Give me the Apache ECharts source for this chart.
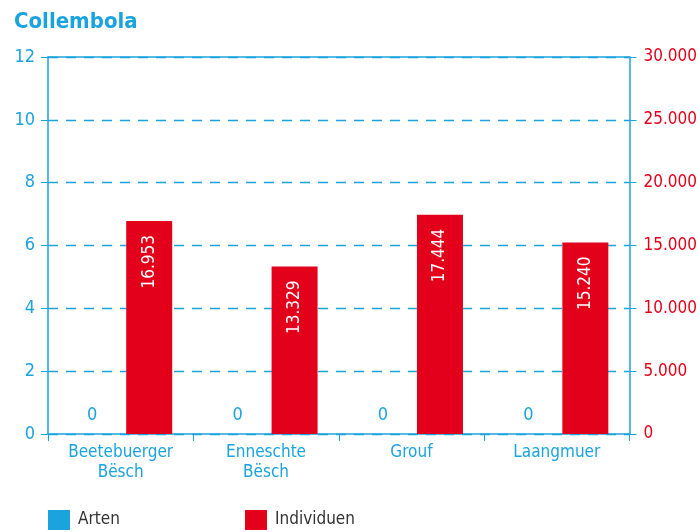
<!DOCTYPE html>
<html><head><meta charset="utf-8">
<script src="https://cdn.jsdelivr.net/npm/echarts@6/dist/echarts.min.js"></script>
<style>html,body{margin:0;padding:0;background:#fff}#c{width:700px;height:532px}</style>
</head><body><div id="c"></div>
<script>
const categories = ['Beetebuerger\nBësch', 'Enneschte\nBësch', 'Grouf', 'Laangmuer'];
const arten = [0, 0, 0, 0];
const individuen = [16953, 13329, 17444, 15240];
const leftTicks = [0, 2, 4, 6, 8, 10, 12];
const rightTicks = [0, 5000, 10000, 15000, 20000, 25000, 30000];

const BLUE = '#1ba3dd', RED = '#e2001a', FONT = "'DejaVu Sans Condensed', 'Liberation Sans Narrow', sans-serif";
const fmt = v => v === 0 ? '0' : String(v).replace(/\B(?=(\d{3})+(?!\d))/g, '.');
const chart = echarts.init(document.getElementById('c'));
chart.setOption({
  animation: false,
  textStyle: {fontFamily: FONT},
  title: {text: 'Collembola', left: 14, top: 11, padding: 0, textStyle: {color: BLUE, fontSize: 22, fontWeight: 'bold', fontFamily: FONT}},
  grid: {left: 48, right: 69, top: 57, bottom: 98},
  legend: [
    {data: ['Arten'], icon: 'rect', left: 48, top: 510, padding: 0, itemWidth: 22, itemHeight: 20, textStyle: {color: '#333', fontSize: 17, fontFamily: FONT, padding: [0, 0, 0, 3]}},
    {data: ['Individuen'], icon: 'rect', left: 245, top: 510, padding: 0, itemWidth: 22, itemHeight: 20, textStyle: {color: '#333', fontSize: 17, fontFamily: FONT, padding: [0, 0, 0, 3]}}
  ],
  xAxis: [
    {type: 'category', data: categories, position: 'bottom',
     axisLine: {onZero: false, lineStyle: {color: BLUE, width: 1.5}},
     axisTick: {show: true, length: 7, lineStyle: {color: BLUE}},
     axisLabel: {color: BLUE, fontSize: 17, lineHeight: 20, margin: 9}},
    {type: 'category', data: categories, position: 'top',
     axisLine: {onZero: false, lineStyle: {color: BLUE, width: 1.5}}, axisTick: {show: false}, axisLabel: {show: false}}
  ],
  yAxis: [
    {type: 'value', min: leftTicks[0], max: leftTicks[leftTicks.length - 1], interval: 2,
     axisLine: {show: true, lineStyle: {color: BLUE, width: 1.5}},
     axisTick: {show: true, length: 7, lineStyle: {color: BLUE}},
     axisLabel: {color: BLUE, fontSize: 18, margin: 13},
     splitLine: {show: true, lineStyle: {color: BLUE, type: [10, 8], width: 1.3}}},
    {type: 'value', min: rightTicks[0], max: rightTicks[rightTicks.length - 1], interval: 5000, position: 'right',
     axisLine: {show: true, lineStyle: {color: BLUE, width: 1.5}},
     axisTick: {show: true, length: 7, lineStyle: {color: BLUE}},
     axisLabel: {color: RED, fontSize: 17, margin: 14, formatter: fmt},
     splitLine: {show: false}}
  ],
  series: [
    {name: 'Arten', type: 'bar', data: arten, yAxisIndex: 0, barWidth: 46, barGap: '24%',
     itemStyle: {color: BLUE},
     label: {show: true, position: 'top', distance: 10, color: BLUE, fontSize: 18, fontFamily: FONT, formatter: p => fmt(p.value)}},
    {name: 'Individuen', type: 'bar', data: individuen, yAxisIndex: 1, barWidth: 46,
     itemStyle: {color: RED},
     label: {show: true, position: 'insideTop', rotate: 90, align: 'right', verticalAlign: 'middle', distance: 14,
             color: '#fff', fontSize: 17, fontFamily: FONT, formatter: p => fmt(p.value)}}
  ]
});
</script></body></html>
